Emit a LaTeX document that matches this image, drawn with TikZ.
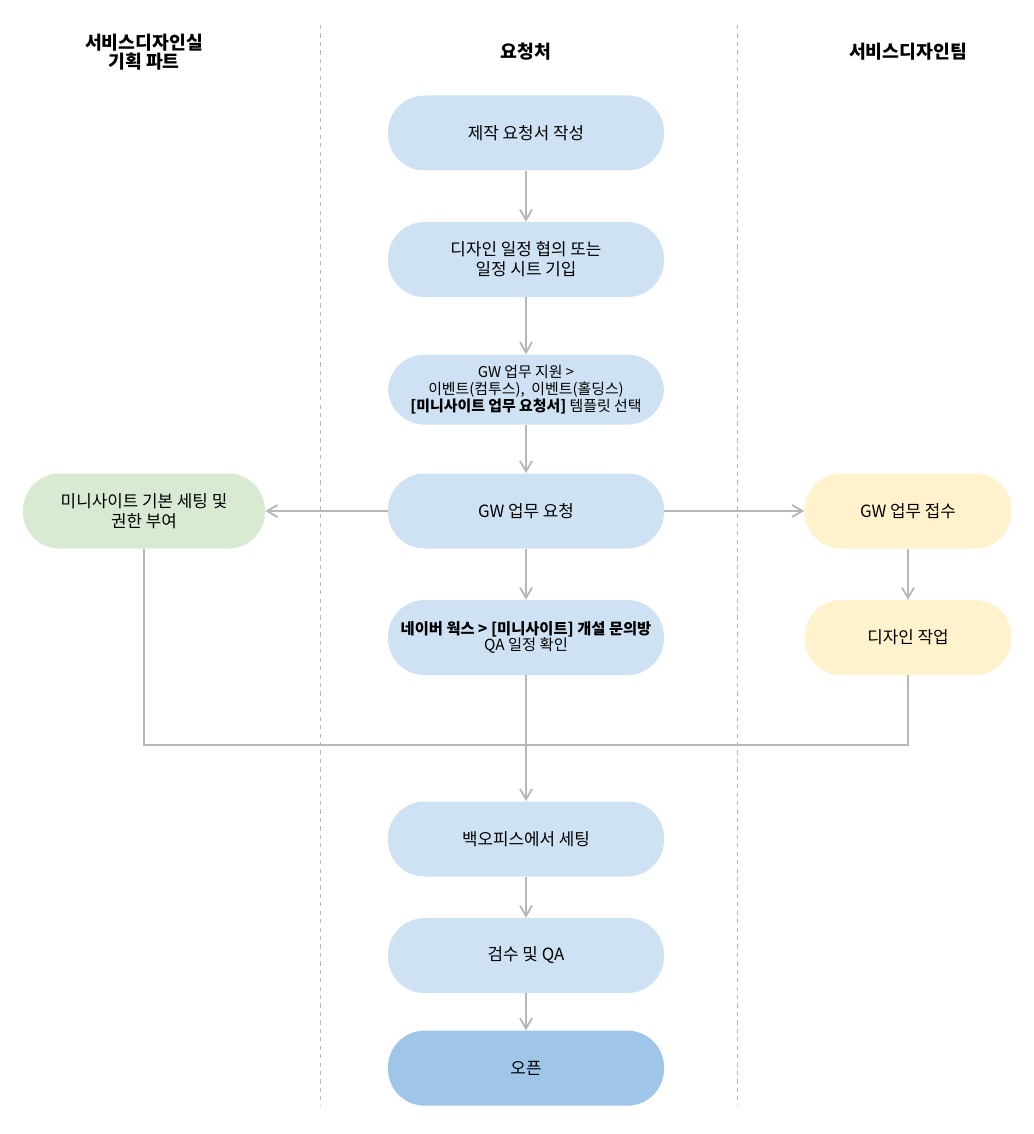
\documentclass[tikz,border=0pt]{standalone}
\usepackage{fontspec}
\setmainfont{Noto Sans CJK KR}
\usepackage{xcolor}
\usepackage{tikz}
\usetikzlibrary{positioning, arrows.meta, calc}

\definecolor{reqblue}{HTML}{CFE2F3}
\definecolor{openblue}{HTML}{9FC5E8}
\definecolor{plangreen}{HTML}{D9EAD3}
\definecolor{teamyellow}{HTML}{FFF2CC}
\definecolor{flowgray}{HTML}{B7B7B7}

\begin{document}
\begin{tikzpicture}[
    flowbox/.style={rounded corners=26pt, minimum height=1.875cm, align=center, font=\fontsize{12}{14.2}\selectfont, inner sep=2pt},
    reqbox/.style={flowbox, fill=reqblue, minimum width=6.9cm},
    lanehead/.style={align=center, font=\fontsize{13}{13.8}\selectfont\bfseries},
    link/.style={draw=flowgray, line width=1.3pt, -{Straight Barb[length=2.6mm, width=3mm]}},
    lane/.style={draw=flowgray, dashed, line width=0.6pt}
  ]
    \useasboundingbox (0,0) rectangle (25.825,-28.35);
    % lanes
    \draw[lane] (8.0,-0.625) -- (8.0,-27.625);
    \draw[lane] (18.425,-0.625) -- (18.425,-27.625);
    \node[lanehead] (headplan) at (3.6,-1.3) {서비스디자인실\\기획 파트};
    \node[lanehead] (headreq) at (13.15,-1.3) {요청처};
    \node[lanehead] (headteam) at (22.7,-1.3) {서비스디자인팀};
    % requester column
    \node[reqbox] (draft) at (13.15,-3.325) {제작 요청서 작성};
    \node[reqbox, below=1.275cm of draft] (sched)
      {디자인 일정 협의 또는\\일정 시트 기입};
    \node[reqbox, minimum height=1.75cm, below=1.425cm of sched, font=\fontsize{10.6}{11.8}\selectfont] (tmpl)
      {GW 업무 지원 >\\이벤트(컴투스), \ 이벤트(홀딩스)\\\textbf{[미니사이트 업무 요청서]} 템플릿 선택};
    \node[reqbox] (gwreq) at (13.15,-12.775) {GW 업무 요청};
    \node[reqbox, below=1.275cm of gwreq, font=\fontsize{10.9}{11.4}\selectfont] (works)
      {\textbf{네이버 웍스 > [미니사이트] 개설 문의방}\\QA 일정 확인};
    \node[reqbox] (backoff) at (13.15,-20.975) {백오피스에서 세팅};
    \node[reqbox, below=1.025cm of backoff] (check) {검수 및 QA};
    \node[flowbox, fill=openblue, minimum width=6.9cm, below=0.925cm of check] (open) {오픈};
    % side columns
    \node[flowbox, fill=plangreen, minimum width=6.05cm] (setup) at (3.6,-12.775)
      {미니사이트 기본 세팅 및\\권한 부여};
    \node[flowbox, fill=teamyellow, minimum width=5.175cm] (receive) at (22.7,-12.775) {GW 업무 접수};
    \node[flowbox, fill=teamyellow, minimum width=5.175cm, below=1.275cm of receive] (design) {디자인 작업};
    \coordinate (merge) at (13.15,-18.625);
    % connectors
    \draw[link] (draft) -- (sched);
    \draw[link] (sched) -- (tmpl);
    \draw[link] (tmpl) -- (gwreq);
    \draw[link] (gwreq) -- (works);
    \draw[link] (gwreq) -- (setup);
    \draw[link] (gwreq) -- (receive);
    \draw[link] (receive) -- (design);
    \draw[link, -] (setup.south) |- (merge);
    \draw[link, -] (design.south) |- (merge);
    \draw[link] (works) -- (backoff);
    \draw[link] (backoff) -- (check);
    \draw[link] (check) -- (open);
  \end{tikzpicture}
\end{document}
